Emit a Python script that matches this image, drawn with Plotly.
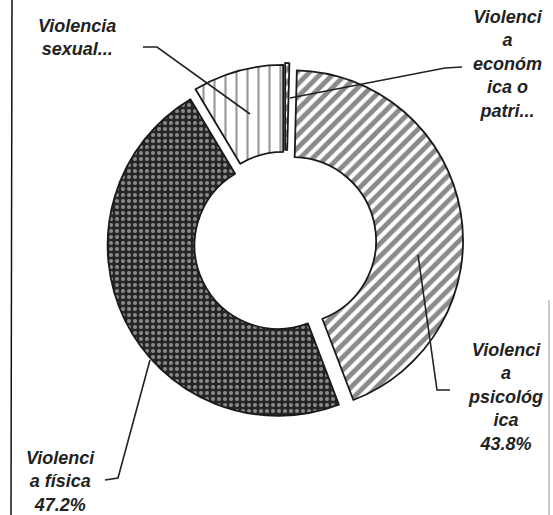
import plotly.graph_objects as go

# Data
categories = ["Violencia económica o patrimonial", "Violencia psicológica",
              "Violencia física", "Violencia sexual"]
values = [0.4, 43.8, 47.2, 8.6]

W, H = 553, 515

def px(x):
    return x / W

def py(y):
    return 1 - y / H

cx, cy, R = 285, 242, 179

fig = go.Figure(go.Pie(
    labels=categories,
    values=values,
    sort=False,
    direction="clockwise",
    rotation=0,
    hole=0.49,
    pull=[0.05, 0.045, 0.045, 0.04],
    textinfo="none",
    hoverinfo="label+percent",
    showlegend=False,
    domain=dict(x=[px(cx - R), px(cx + R)], y=[py(cy + R), py(cy - R)]),
    marker=dict(
        colors=["white", "white", "#262626", "white"],
        line=dict(color="#1a1a1a", width=1.8),
        pattern=dict(
            shape=["/", "/", ".", "|"],
            fgcolor=["#151515", "#151515", "#eeeeee", "#333333"],
            bgcolor=["white", "white", "#262626", "white"],
            size=[9, 9, 6, 11],
            solidity=[0.55, 0.55, 0.35, 0.2],
            fillmode="overlay",
        ),
    ),
))

font = dict(family="Liberation Sans, Arial, sans-serif", size=18, color="#222222")

def label(x, y, text):
    fig.add_annotation(x=px(x), y=py(y), xref="paper", yref="paper",
                       text=text, showarrow=False, font=font,
                       xanchor="center", yanchor="middle", align="center")

label(77, 37, "<b><i>Violencia<br>sexual...</i></b>")
label(508, 64, "<b><i>Violenci<br>a<br>económ<br>ica o<br>patri...</i></b>")
label(505, 397, "<b><i>Violenci<br>a<br>psicológ<br>ica<br>%.1f%%</i></b>" % values[1])
label(60, 481, "<b><i>Violenci<br>a física<br>%.1f%%</i></b>" % values[2])

def leader(points):
    path = "M " + " L ".join(f"{px(x)},{py(y)}" for x, y in points)
    fig.add_shape(type="path", path=path, xref="paper", yref="paper",
                  line=dict(color="#222222", width=1.6))

leader([(143, 47), (157, 47), (250, 114)])
leader([(290, 98), (445, 68), (462, 67)])
leader([(418, 255), (437, 390), (450, 390)])
leader([(150, 360), (118, 478), (105, 480)])

# scanned frame lines
fig.add_shape(type="line", xref="paper", yref="paper",
              x0=px(12), x1=px(11), y0=py(0), y1=py(515),
              line=dict(color="#111111", width=1.5))
fig.add_shape(type="line", xref="paper", yref="paper",
              x0=px(549), x1=px(549), y0=py(300), y1=py(515),
              line=dict(color="#999999", width=1))

fig.update_layout(
    width=W, height=H,
    margin=dict(l=0, r=0, t=0, b=0),
    paper_bgcolor="white",
    plot_bgcolor="white",
)

fig.write_html(
    "out.html",
    config={"displayModeBar": False},
    post_script="document.body.style.margin='0px';document.body.style.overflow='hidden';",
)
